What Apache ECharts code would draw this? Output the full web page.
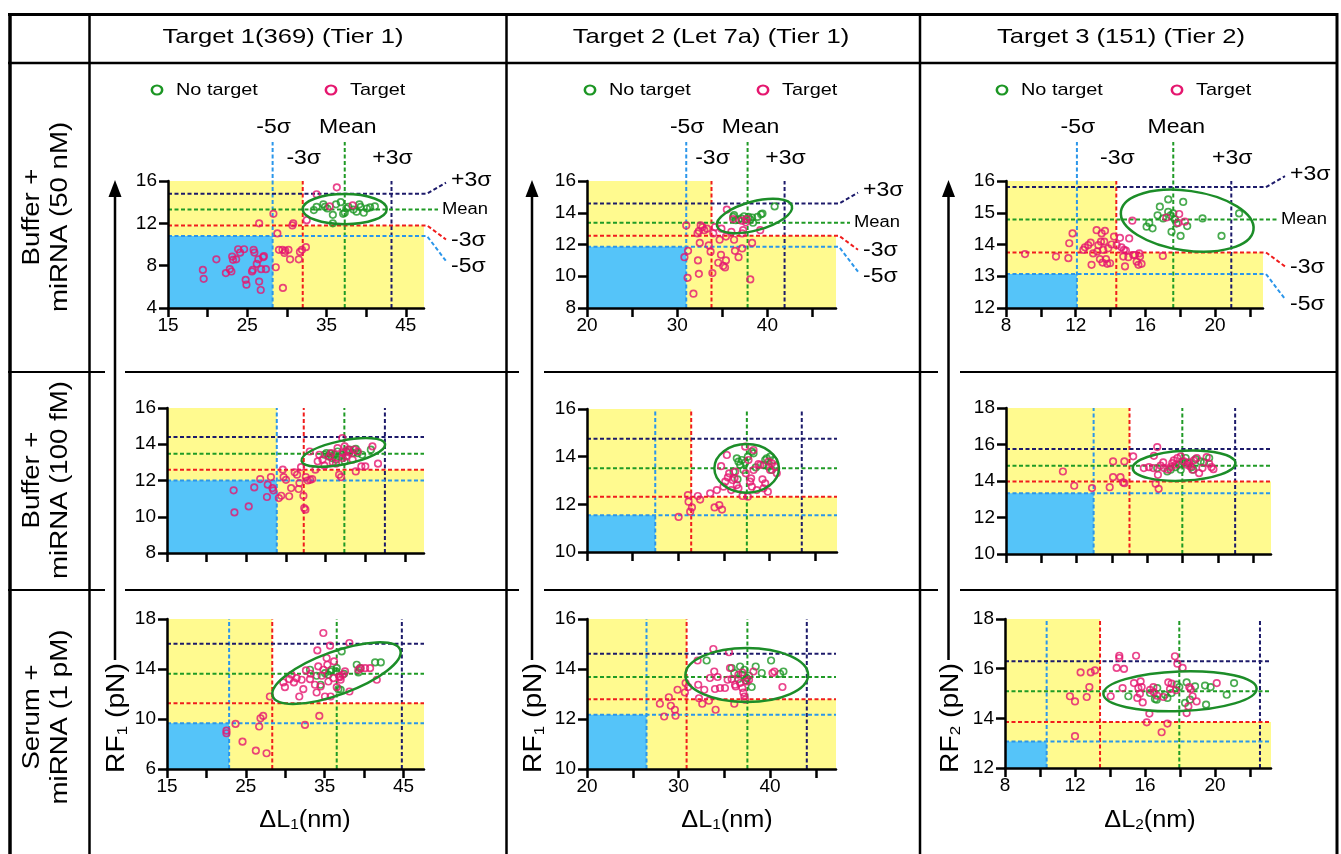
<!DOCTYPE html>
<html>
<head>
<meta charset="utf-8">
<title>RF vs ΔL</title>
<script src="https://cdn.jsdelivr.net/npm/echarts@6.0.0/dist/echarts.min.js"></script>
<style>
  html, body { margin: 0; padding: 0; background: #fff; }
  #chart { width: 1341px; height: 854px; }
</style>
</head>
<body>
<div id="chart"></div>
<script>
// ---------- data (ΔL in nm, RF in pN), panels named row/column ----------
const noTarget11 = [[33.4,13.25],[33.75,13.56],[34.6,13.8],[34.8,13.56],[35.1,13.4],[35.8,12.8],[35.8,12.0],[36.2,13.8],[36.8,14.0],[37.1,12.9],[37.3,13.0],[37.5,13.4],[37.75,13.56],[38.4,13.3],[38.8,13.1],[39.15,13.8],[39.3,13.56],[39.7,13.0],[40.1,13.4],[40.5,13.5],[41.1,13.6]];
const target11 = [[19.4,7.6],[19.5,6.76],[21.1,8.6],[22.3,7.3],[22.8,7.67],[23.0,7.45],[23.1,8.86],[23.2,8.55],[23.6,8.6],[23.85,9.55],[24.1,9.23],[24.6,9.55],[24.8,6.66],[24.9,6.2],[25.6,7.45],[25.7,7.6],[25.8,9.5],[25.9,9.24],[26.2,8.17],[26.4,8.6],[26.5,6.5],[26.7,5.7],[26.75,7.67],[27.0,8.8],[27.1,8.9],[27.35,7.67],[26.5,12.0],[28.3,12.9],[28.6,7.85],[28.8,11.05],[29.0,9.5],[29.45,9.5],[29.5,5.9],[29.7,9.2],[29.8,9.4],[30.2,9.5],[30.4,8.6],[30.7,11.8],[30.8,12.0],[31.5,8.6],[31.65,9.3],[31.9,9.5],[32.4,9.75],[32.5,12.3],[33.75,14.75],[35.4,13.6],[36.3,15.4],[38.3,13.7]];

const noTarget12 = [[36.2,13.74],[36.3,13.85],[36.8,13.57],[37.1,13.64],[37.4,13.78],[37.9,13.74],[38.1,13.57],[38.4,13.37],[38.9,13.74],[39.3,13.9],[39.45,13.95],[40.8,14.4],[36.5,13.53],[38.3,13.7]];
const target12 = [[30.8,11.2],[31.0,13.2],[31.15,9.9],[31.2,11.6],[31.8,8.9],[32.3,11.0],[32.4,10.15],[32.25,12.7],[32.4,12.85],[32.5,12.1],[32.6,13.2],[32.8,13.1],[33.0,12.9],[33.3,13.0],[33.5,11.95],[33.7,11.55],[33.9,10.2],[34.0,12.7],[34.2,13.1],[34.55,10.85],[34.7,12.3],[34.85,11.35],[34.9,13.0],[35.1,10.65],[35.3,10.55],[35.4,11.0],[35.5,14.2],[35.4,12.5],[36.0,12.8],[36.3,12.3],[36.4,11.6],[36.8,11.2],[37.15,13.5],[37.2,11.75],[37.2,12.7],[37.3,12.9],[37.6,13.4],[37.7,13.6],[38.1,9.8],[38.3,12.1],[39.2,12.9],[36.2,13.6]];

const noTarget13 = [[16.07,14.56],[16.22,14.68],[16.41,14.51],[16.7,14.92],[16.83,15.19],[17.02,14.82],[17.31,15.42],[17.31,15.03],[17.45,14.92],[17.5,14.4],[17.6,14.98],[17.69,14.79],[17.79,14.66],[18.02,14.27],[18.17,15.34],[18.4,14.58],[19.28,14.82],[20.37,14.27],[21.38,14.98]];
const target13 = [[9.09,13.7],[10.87,13.62],[11.58,13.57],[11.63,14.04],[11.82,14.35],[12.44,13.83],[12.53,13.91],[12.72,13.98],[12.86,14.06],[12.91,13.36],[13.0,13.72],[13.2,14.45],[13.24,13.78],[13.3,13.98],[13.39,13.54],[13.45,14.09],[13.49,14.35],[13.54,13.43],[13.58,13.83],[13.64,14.09],[13.68,14.43],[13.74,13.54],[13.81,13.39],[13.87,13.88],[13.97,13.41],[14.06,14.0],[14.2,14.25],[14.35,13.98],[14.54,14.21],[14.63,13.91],[14.73,13.62],[14.77,13.83],[14.83,13.31],[14.88,13.81],[15.02,13.6],[15.07,14.19],[15.3,13.67],[15.4,13.67],[15.5,13.46],[15.6,13.36],[15.65,13.72],[15.69,13.62],[15.78,13.39],[15.25,14.75],[17.0,13.64],[17.2,14.85],[17.94,14.96],[17.88,14.68],[18.27,14.72]];

const noTarget21 = [[34.85,13.42],[35.1,13.51],[35.4,13.33],[35.6,13.48],[35.8,13.24],[36.1,13.42],[36.5,13.6],[36.7,13.33],[37.05,13.42],[37.6,13.6],[38.0,13.7],[38.4,13.51],[38.8,13.74],[39.05,13.51],[39.6,13.42],[40.7,13.7],[36.3,13.15],[37.4,13.06]];
const target21 = [[23.4,11.46],[23.5,10.24],[25.3,10.57],[26.0,11.62],[26.75,12.08],[27.6,11.09],[27.7,11.77],[28.1,12.19],[28.3,11.58],[28.4,11.46],[29.1,11.03],[29.4,11.16],[29.6,12.6],[29.7,12.19],[30.0,12.04],[30.4,11.13],[30.65,11.58],[31.1,12.45],[31.4,12.32],[31.6,11.53],[31.7,11.86],[31.9,12.74],[32.2,11.16],[32.3,10.48],[32.45,10.39],[32.5,12.19],[32.75,12.0],[33.0,13.6],[33.05,12.04],[33.3,12.08],[33.7,12.6],[34.0,13.06],[34.2,13.42],[34.6,13.15],[34.85,12.82],[35.5,13.33],[35.9,13.0],[36.3,12.93],[36.5,13.79],[36.7,12.32],[36.95,12.19],[37.1,14.34],[37.15,13.24],[37.2,13.51],[37.4,13.88],[37.6,13.33],[37.8,13.7],[38.0,13.55],[38.4,13.15],[38.8,12.5],[39.05,13.6],[39.5,12.78],[40.0,12.78],[40.9,13.88],[41.6,12.93],[38.6,13.7],[35.7,13.51]];

const noTarget22 = [[36.42,13.93],[36.6,13.79],[36.79,13.65],[36.97,13.86],[37.15,13.44],[37.34,13.75],[37.63,14.0],[38.07,14.21],[38.25,14.14],[38.5,13.55],[39.34,13.65],[39.53,13.86],[39.7,13.93],[39.9,13.58],[40.07,14.0],[40.26,13.44],[40.44,13.86],[36.5,13.05],[36.06,13.37]];
const target22 = [[30.04,11.47],[31.06,12.39],[31.13,12.11],[31.31,11.69],[31.5,11.87],[32.15,12.35],[32.4,12.2],[33.5,12.46],[33.98,11.87],[34.23,12.6],[34.5,11.97],[34.7,13.6],[34.8,11.78],[34.96,12.74],[35.15,12.95],[35.33,14.07],[35.44,13.13],[35.58,13.3],[35.8,12.6],[35.95,13.02],[36.17,13.09],[36.24,13.37],[36.42,12.81],[36.6,12.67],[37.04,12.35],[37.34,14.42],[37.4,13.3],[37.63,12.32],[37.7,13.86],[37.88,12.95],[37.99,13.09],[38.07,12.74],[38.25,14.28],[38.25,13.44],[38.6,12.6],[38.8,13.69],[39.0,13.65],[39.23,13.05],[39.34,12.67],[39.53,12.88],[39.82,12.53],[39.9,13.79],[40.07,13.44],[40.26,13.72],[40.62,13.58],[40.8,13.3]];

const noTarget23 = [[16.56,14.71],[17.13,14.52],[17.32,14.62],[17.6,14.76],[17.79,14.89],[17.98,15.07],[18.17,15.26],[18.27,14.98],[18.5,14.76],[18.6,14.62],[18.74,15.2],[19.02,15.07],[19.21,15.02],[19.5,15.26],[17.89,14.62]];
const target23 = [[11.22,14.52],[11.86,13.74],[12.87,13.61],[13.87,13.66],[14.06,15.07],[14.06,14.21],[14.48,14.21],[14.63,13.92],[14.7,15.07],[14.7,13.88],[15.2,15.35],[15.8,14.71],[16.09,14.76],[16.33,14.71],[16.37,15.38],[16.47,13.85],[16.56,15.86],[16.6,14.34],[16.64,13.57],[16.75,14.84],[16.9,15.02],[16.94,14.71],[17.17,14.62],[17.32,14.76],[17.41,14.98],[17.5,15.13],[17.6,14.89],[17.7,15.26],[17.89,15.35],[18.08,15.07],[18.23,14.89],[18.36,15.02],[18.42,14.8],[18.55,14.62],[18.64,15.13],[18.8,15.26],[18.93,14.43],[19.12,14.71],[19.36,15.31],[19.5,14.95],[19.63,14.76],[19.74,14.65]];

const noTarget31 = [[33.14,13.94],[33.98,13.46],[34.49,12.74],[35.04,13.67],[35.47,13.54],[35.76,13.81],[35.89,13.94],[36.44,13.81],[36.53,14.07],[36.74,12.39],[37.16,15.41],[37.03,12.34],[37.46,13.62],[39.07,14.34],[39.28,13.73],[39.49,14.07],[41.4,14.53],[42.12,14.53]];
const target31 = [[22.54,9.07],[22.54,8.86],[23.69,9.61],[24.58,8.19],[26.27,7.47],[26.69,9.4],[26.86,10.06],[27.2,10.25],[27.63,7.26],[28.05,11.8],[29.75,12.93],[29.96,12.55],[30.51,13.19],[30.8,13.54],[31.1,12.93],[31.44,13.27],[31.78,11.8],[32.08,13.14],[32.29,12.39],[32.63,13.89],[33.14,13.19],[33.22,13.62],[33.77,12.74],[33.98,12.12],[34.07,15.49],[34.19,14.21],[34.32,10.25],[34.49,12.6],[34.62,13.46],[34.83,13.94],[35.04,11.8],[35.25,14.88],[35.34,14.34],[35.47,13.0],[35.68,15.87],[35.76,11.8],[36.1,13.27],[36.19,14.61],[36.53,12.55],[36.86,13.41],[36.95,13.35],[37.03,13.14],[37.29,13.54],[37.58,13.81],[38.14,12.2],[38.14,16.08],[39.28,13.94],[39.58,14.07],[40.13,14.07],[40.76,14.07],[41.61,13.14],[34.83,16.88],[32.5,9.53]];

const noTarget32 = [[33.07,14.34],[35.8,14.04],[36.09,13.84],[36.72,14.1],[36.97,13.77],[37.19,13.97],[37.34,13.54],[37.45,13.64],[37.7,13.73],[37.99,13.28],[38.43,14.1],[39.09,13.84],[40.11,14.34],[41.09,13.81],[41.46,13.9],[36.53,13.6]];
const target32 = [[27.96,12.61],[28.43,12.1],[28.94,12.87],[29.16,12.53],[29.6,12.37],[29.67,12.13],[29.89,13.17],[30.69,13.06],[30.77,13.44],[31.06,13.28],[32.08,14.34],[32.15,13.37],[32.23,12.83],[32.59,12.61],[32.81,13.17],[33.32,12.73],[33.43,13.64],[33.8,14.8],[33.9,13.9],[33.98,13.2],[34.05,12.37],[34.53,13.24],[35.07,13.24],[35.36,13.57],[35.51,14.67],[35.62,14.04],[35.8,13.6],[36.09,12.61],[36.17,13.37],[36.24,13.3],[36.53,13.77],[36.72,13.44],[36.97,13.24],[36.97,13.86],[37.08,13.06],[37.19,12.9],[37.26,12.77],[37.45,13.5],[37.7,13.57],[38.18,13.9],[40.26,13.84],[40.47,13.9],[41.35,13.28],[34.27,13.68]];

const noTarget33 = [[15.05,14.89],[16.29,15.02],[16.57,14.78],[16.67,14.75],[16.7,15.22],[17.14,14.95],[17.28,14.82],[17.52,15.02],[17.81,15.36],[17.96,15.26],[18.29,14.62],[18.38,15.45],[18.57,14.75],[18.86,15.29],[19.43,15.32],[19.49,14.55],[19.75,15.26],[20.67,14.95],[21.09,15.42]];
const target33 = [[11.71,14.89],[12.0,14.68],[12.0,13.28],[12.32,15.85],[12.67,14.86],[12.82,15.26],[12.9,15.85],[13.14,15.93],[14.04,14.89],[14.38,16.03],[14.53,16.52],[14.53,16.43],[14.8,15.99],[14.72,15.22],[15.37,15.42],[15.49,16.52],[15.56,14.82],[15.62,15.22],[15.71,14.99],[15.75,15.49],[15.81,15.26],[15.87,14.64],[16.1,13.84],[16.25,14.19],[16.29,15.15],[16.48,15.26],[16.51,15.05],[16.7,14.91],[16.95,13.44],[17.05,14.86],[17.28,13.79],[17.33,15.45],[17.43,15.18],[17.52,15.4],[17.71,16.5],[17.77,15.13],[17.85,16.2],[18.15,16.03],[18.38,14.21],[18.48,14.48],[18.53,15.26],[18.61,15.18],[18.72,14.89],[18.95,14.68],[20.1,15.42]];

// σ thresholds: ΔL lines [-5σ, -3σ, mean, +3σ], RF lines [-5σ, -3σ, mean, +3σ]
const dL11 = [28.2, 32.0, 37.3, 43.2],   rf11 = [10.8, 11.8, 13.3, 14.8];
const dL12 = [31.0, 33.8, 37.8, 41.9],   rf12 = [11.86, 12.55, 13.37, 14.58];
const dL13 = [12.07, 14.33, 17.6, 20.93], rf13 = [13.07, 13.75, 14.79, 15.81];
const dL21 = [28.84, 32.24, 37.36, 42.47], rf21 = [12.0, 12.6, 13.48, 14.4];
const dL22 = [27.48, 31.42, 37.52, 43.54], rf22 = [11.54, 12.32, 13.51, 14.75];
const dL23 = [12.96, 14.99, 17.98, 20.97], rf23 = [13.33, 13.97, 14.84, 15.75];
const dL31 = [22.88, 28.35, 36.53, 44.79], rf31 = [9.66, 11.27, 13.62, 16.03];
const dL32 = [26.5, 30.88, 37.52, 44.01],  rf32 = [12.17, 12.79, 13.68, 14.61];
const dL33 = [10.38, 13.43, 17.96, 22.57], rf33 = [13.07, 13.85, 15.09, 16.3];

// shaded zones: blue corner [ΔL, RF]; white (unshaded) corner starts at [ΔL, RF]
const blueZone = [[28.2,10.8],[31.0,11.86],[12.07,13.07],[28.84,12.0],[27.48,11.54],[12.96,13.33],[22.88,9.66],[26.5,12.17],[10.38,13.07]];
const clearZone = [[32.0,11.8],[33.8,12.55],[14.33,13.75],[28.84,12.6],[31.42,12.32],[14.99,13.97],[28.35,11.27],[30.88,12.79],[13.43,13.85]];

// no-target clusters: [centre ΔL, centre RF, half width ΔL, half height RF, tilt deg]
const cluster = [[37.3,13.34,5.3,1.42,0],[38.56,13.8,4.3,0.91,15],[18.4,14.75,3.84,0.94,-8],
                 [37.23,13.55,5.37,0.65,11.5],[37.5,13.51,3.54,1.02,0],[18.08,14.84,2.91,0.82,3],
                 [36.5,13.67,8.6,1.72,20],[37.45,13.76,6.7,1.08,0],[18.0,15.09,4.38,0.8,2]];

// axes
const xTicks = [[15,20,25,30,35,40,45],[20,25,30,35,40,45],[8,10,12,14,16,18,20,22]];
const xLabels = [[15,25,35,45],[20,30,40],[8,12,16,20]];
const xMin = [15, 20, 8];
const xMax = [47.3, 47.6, 22.75, 47.4, 47.4, 23.0, 47.6, 47.2, 23.2];
const yTicks = [[4,8,12,16],[8,10,12,14,16],[12,13,14,15,16],
                [8,10,12,14,16],[10,12,14,16],[10,12,14,16,18],
                [6,10,14,18],[10,12,14,16],[12,14,16,18]];

const headers = ['Target 1(369) (Tier 1)', 'Target 2 (Let 7a) (Tier 1)', 'Target 3 (151) (Tier 2)'];
const rowNames = ['Buffer +\nmiRNA (50 nM)', 'Buffer +\nmiRNA (100 fM)', 'Serum +\nmiRNA (1 pM)'];
const sigmaNames = ['-5σ', '-3σ', 'Mean', '+3σ'];

// ---------- layout & style ----------
const FONT = '"Liberation Sans", Arial, Helvetica, sans-serif';
const GREEN = '#1c9624', PINK = '#e5176f', RING = '#1c8d28';
const YELLOW = '#fffa8f', BLUE = '#55c4f9';
const SIGMA_COLOR = ['#2b96ea', '#f01c1c', '#1f9a25', '#1c1a6a'];
const WIDE = 1.15;   // the source figure's lettering is a little wide

const GRID = [[168,181,256,127],[587,181,249,127],[1006,181,257,127],
              [167,408,257,145],[587,409,250,143],[1006,408,265,146],
              [167,619,257,150],[587,619,249,150],[1005,619,266,149]];
const headerX = [283, 711, 1121];
const arrowX = [115, 532, 948.5];
const xTitleX = [305, 727, 1150];
const legendX = [[157, 331], [590, 763], [1002, 1177]];

const noTarget = [noTarget11, noTarget12, noTarget13, noTarget21, noTarget22, noTarget23, noTarget31, noTarget32, noTarget33];
const target = [target11, target12, target13, target21, target22, target23, target31, target32, target33];
const dLines = [dL11, dL12, dL13, dL21, dL22, dL23, dL31, dL32, dL33];
const rfLines = [rf11, rf12, rf13, rf21, rf22, rf23, rf31, rf32, rf33];

function zonesRender(i) {
  const x0 = xMin[i % 3], x1 = xMax[i], y0 = yTicks[i][0], y1 = yTicks[i][yTicks[i].length - 1];
  return function (params, api) {
    const rect = (ax, ay, bx, by, fill) => {
      const p = api.coord([ax, by]), q = api.coord([bx, ay]);
      return {type: 'rect', shape: {x: p[0], y: p[1], width: q[0] - p[0], height: q[1] - p[1]}, style: {fill: fill}};
    };
    const c = clearZone[i], b = blueZone[i];
    return {type: 'group', children: [
      rect(x0, y0, x1, c[1], YELLOW),
      rect(x0, c[1], c[0], y1, YELLOW),
      rect(x0, y0, b[0], b[1], BLUE)
    ]};
  };
}

function guidesRender(i) {
  const top = i < 3;
  const x0 = xMin[i % 3], x1 = xMax[i], y0 = yTicks[i][0], y1 = yTicks[i][yTicks[i].length - 1];
  return function (params, api) {
    const kids = [];
    const dash = (pts, k) => kids.push({type: 'polyline', shape: {points: pts},
      style: {stroke: SIGMA_COLOR[k], lineWidth: 2, lineDash: [4, 2.5], fill: null}});
    const label = (x, y, text, size, align) => kids.push({type: 'text', x: x, y: y, scaleX: WIDE,
      style: {text: text, fontSize: size, fontFamily: FONT, fill: '#000', align: align, verticalAlign: 'middle'}});
    dLines[i].forEach((val, k) => {
      const a = api.coord([val, y0]), b = api.coord([val, y1]);
      const tall = top && (k === 0 || k === 2);
      dash([a, [b[0], tall ? b[1] - 39 : b[1]]], k);
      if (top) label(b[0] + (k === 2 ? 3 : 1), b[1] - (tall ? 54 : 23), sigmaNames[k], 20, 'center');
    });
    rfLines[i].forEach((val, k) => {
      const a = api.coord([x0, val]), b = api.coord([x1, val]);
      if (!top) { dash([a, b], k); return; }
      const xe = b[0], y = b[1];
      if (k === 2) {
        dash([a, [xe + 14, y]], k);
        label(xe + 18, y, 'Mean', 16, 'left');
        return;
      }
      const dy = k === 3 ? -11 : (k === 1 ? 14 : 25);
      dash([a, [xe + 3, y], [xe + 22, y + dy]], k);
      label(xe + 27, y + dy + (k === 3 ? -2 : (k === 1 ? 1 : 5)), sigmaNames[k], 20, 'left');
    });
    return {type: 'group', children: kids};
  };
}

function clusterRender(i) {
  const e = cluster[i];
  return function (params, api) {
    const c = api.coord([e[0], e[1]]);
    const rx = api.coord([e[0] + e[2], e[1]])[0] - c[0];
    const ry = c[1] - api.coord([e[0], e[1] + e[3]])[1];
    return {type: 'ellipse', x: c[0], y: c[1], rotation: e[4] * Math.PI / 180,
      shape: {cx: 0, cy: 0, rx: rx, ry: ry}, style: {fill: 'none', stroke: RING, lineWidth: 2.5}};
  };
}

const grid = [], xAxis = [], yAxis = [], series = [];
for (let i = 0; i < 9; i++) {
  const row = Math.floor(i / 3), col = i % 3;
  const yt = yTicks[i];
  grid.push({left: GRID[i][0], top: GRID[i][1], width: GRID[i][2], height: GRID[i][3], containLabel: false, outerBoundsMode: 'none'});
  xAxis.push({
    gridIndex: i, type: 'value', min: xMin[col], max: xMax[i], z: 10,
    splitLine: {show: false},
    axisLine: {onZero: false, lineStyle: {color: '#000', width: 2.5}},
    axisTick: {length: 9, lineStyle: {color: '#000', width: 2.5}, customValues: xTicks[col]},
    axisLabel: {show: row !== 1, customValues: xLabels[col], color: '#000', fontSize: 19, fontFamily: FONT, margin: 8}
  });
  yAxis.push({
    gridIndex: i, type: 'value', min: yt[0], max: yt[yt.length - 1], z: 10,
    splitLine: {show: false},
    axisLine: {onZero: false, lineStyle: {color: '#000', width: 2.5}},
    axisTick: {length: 9, lineStyle: {color: '#000', width: 2.5}, customValues: yt},
    axisLabel: {customValues: yt, color: '#000', fontSize: 19, fontFamily: FONT, margin: 11}
  });
  const anchor = [[xMin[col], yt[0]]];
  series.push({type: 'custom', xAxisIndex: i, yAxisIndex: i, z: 1, silent: true, data: anchor, renderItem: zonesRender(i)});
  series.push({type: 'custom', xAxisIndex: i, yAxisIndex: i, z: 2, silent: true, data: anchor, renderItem: guidesRender(i)});
  series.push({type: 'scatter', name: 'No target', xAxisIndex: i, yAxisIndex: i, z: 3, silent: true, clip: false,
    symbol: 'circle', symbolSize: 6.5, data: noTarget[i],
    itemStyle: {color: 'rgba(255,255,255,0)', borderColor: GREEN, borderWidth: 1.7}});
  series.push({type: 'scatter', name: 'Target', xAxisIndex: i, yAxisIndex: i, z: 3, silent: true, clip: false,
    symbol: 'circle', symbolSize: 6.5, data: target[i],
    itemStyle: {color: 'rgba(255,255,255,0)', borderColor: PINK, borderWidth: 1.7}});
  series.push({type: 'custom', xAxisIndex: i, yAxisIndex: i, z: 4, silent: true, data: anchor, renderItem: clusterRender(i)});
}

// ---------- table frame, titles, arrows, legends ----------
const graphic = [];
const rule = (x1, y1, x2, y2, w) => graphic.push({type: 'line', silent: true, shape: {x1: x1, y1: y1, x2: x2, y2: y2}, style: {stroke: '#000', lineWidth: w}});
rule(8, 14.5, 1338, 14.5, 3);
rule(8, 63, 1338, 63, 2.5);
rule(10, 13, 10, 854, 3.5);
[89.5, 506.5, 920].forEach(x => rule(x, 13, x, 854, 2.5));
rule(1337, 13, 1337, 854, 3);
[372, 590].forEach(y => [[8, 105], [125, 519], [544, 938], [960, 1338]].forEach(s => rule(s[0], y, s[1], y, 2)));

const sub = (main, s, tail, size) => ({
  text: '{a|' + main + '}{s|' + s + '}{a|' + tail + '}',
  rich: {a: {fontSize: size, fontFamily: FONT, lineHeight: size + 5, verticalAlign: 'bottom'},
         s: {fontSize: Math.round(size * 0.6), fontFamily: FONT, verticalAlign: 'bottom'}}
});

for (let c = 0; c < 3; c++) {
  graphic.push({type: 'text', x: headerX[c], y: 37, scaleX: 1.22, silent: true,
    style: {text: headers[c], fontSize: 21, fontFamily: FONT, fill: '#000', align: 'center', verticalAlign: 'middle'}});
  graphic.push({type: 'text', x: 47, y: [217, 480, 717][c], rotation: Math.PI / 2, scaleX: 1.2, silent: true,
    style: {text: rowNames[c], fontSize: 23, lineHeight: 28, fontFamily: FONT, fill: '#000', align: 'center', verticalAlign: 'middle'}});
  // long RF arrow
  rule(arrowX[c], 195, arrowX[c], 660, 2.5);
  graphic.push({type: 'polygon', silent: true, shape: {points: [[arrowX[c] - 6.5, 197], [arrowX[c], 180], [arrowX[c] + 6.5, 197]]}, style: {fill: '#000'}});
  const rf = sub('RF', c === 2 ? '2' : '1', ' (pN)', 25);
  graphic.push({type: 'text', x: arrowX[c], y: 718, rotation: Math.PI / 2, scaleX: 1.13, silent: true,
    style: Object.assign(rf, {fill: '#000', align: 'center', verticalAlign: 'middle'})});
  const dl = sub('ΔL', c === 2 ? '2' : '1', '(nm)', 23);
  graphic.push({type: 'text', x: xTitleX[c], y: 818, scaleX: 1.1, silent: true,
    style: Object.assign(dl, {fill: '#000', align: 'center', verticalAlign: 'middle'})});
  // legend
  [['No target', GREEN], ['Target', PINK]].forEach((it, k) => {
    const lx = legendX[c][k];
    graphic.push({type: 'circle', silent: true, x: lx, y: 90, scaleX: 1.15, shape: {cx: 0, cy: 0, r: 4.5}, style: {fill: 'none', stroke: it[1], lineWidth: 2.2}});
    graphic.push({type: 'text', x: lx + 19, y: 90, scaleX: 1.17, silent: true,
      style: {text: it[0], fontSize: 17, fontFamily: FONT, fill: '#000', align: 'left', verticalAlign: 'middle'}});
  });
}

const chart = echarts.init(document.getElementById('chart'), null, {renderer: 'canvas'});
chart.setOption({
  animation: false,
  backgroundColor: '#fff',
  textStyle: {fontFamily: FONT},
  grid: grid,
  xAxis: xAxis,
  yAxis: yAxis,
  series: series,
  graphic: graphic
});
</script>
</body>
</html>
